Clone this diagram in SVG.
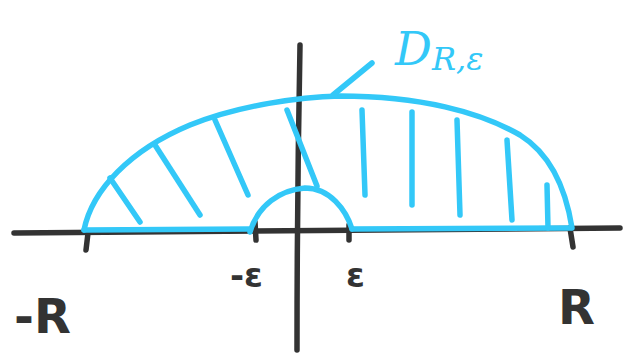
<svg xmlns="http://www.w3.org/2000/svg" width="630" height="353" viewBox="0 0 630 353">
<style>
.k{fill:none;stroke:#333;stroke-width:5.5;stroke-linecap:round;stroke-linejoin:round}
.b{fill:none;stroke:#33c8f8;stroke-width:5.5;stroke-linecap:round;stroke-linejoin:round}
.tk{font-family:"DejaVu Sans",sans-serif;font-weight:bold;fill:#333}
.tb{font-family:"DejaVu Serif",serif;font-style:italic;fill:#33c8f8}
</style>
<rect width="630" height="353" fill="#fff"/>
<g id="axes">
<path class="k" d="M14,233 Q300,231 620,228"/>
<path class="k" d="M300,45 Q297,200 297,350"/>
<path class="k" d="M88,233 L86,250"/>
<path class="k" d="M255,222 L256,240"/>
<path class="k" d="M349,225 L349,240"/>
<path class="k" d="M570,228 L573,247"/>
</g>
<g id="region">
<path class="b" d="M84,230 C92,190 130,150 190,125 C240,105 300,97 340,96 C420,96 480,112 520,135 C552,155 566,190 572,228"/>
<path class="b" d="M84,230 L250,229"/>
<path class="b" d="M352,229 L570,228"/>
<path class="b" d="M250,232 C258,205 280,190 305,188 C330,188 346,210 352,229"/>
<path class="b" d="M110,178 L140,222"/>
<path class="b" d="M155,145 L200,215"/>
<path class="b" d="M215,120 L248,195"/>
<path class="b" d="M287,110 L317,186"/>
<path class="b" d="M362,110 L365,195"/>
<path class="b" d="M412,112 L412,205"/>
<path class="b" d="M457,120 L460,215"/>
<path class="b" d="M507,140 L512,220"/>
<path class="b" d="M547,185 L548,228"/>
<path class="b" d="M372,63 L333,95"/>
</g>
<g id="labels">
<text class="tk" x="14" y="333" font-size="48">-R</text>
<text class="tk" x="558" y="324" font-size="48">R</text>
<text class="tk" x="230" y="287" font-size="34">-ε</text>
<text class="tk" x="346" y="287" font-size="34">ε</text>
<text class="tb" x="395" y="65" font-size="46">D<tspan font-size="32" dy="5">R,ε</tspan></text>
</g>
</svg>
